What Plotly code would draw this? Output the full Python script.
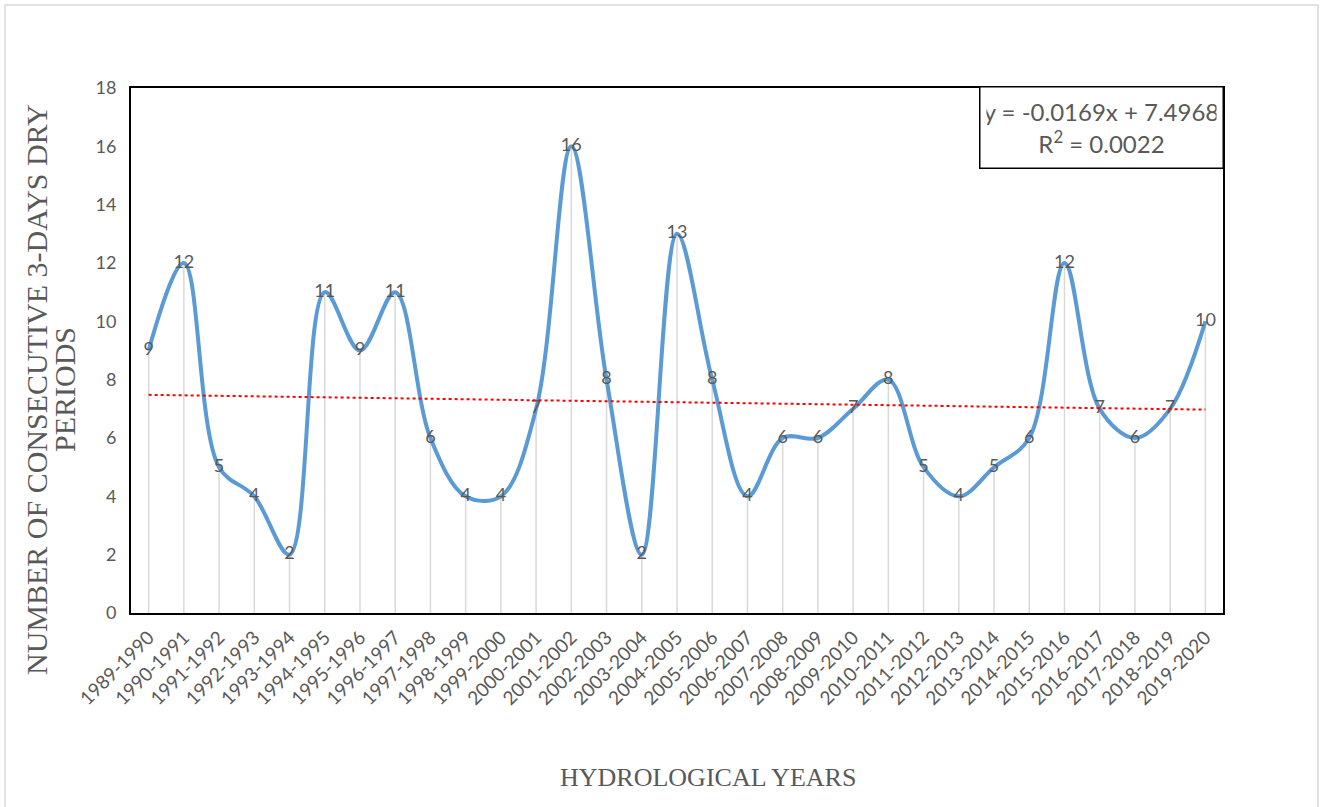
import plotly.graph_objects as go

# Hydrological years and counts of consecutive 3-day dry periods
years = ["1989-1990", "1990-1991", "1991-1992", "1992-1993", "1993-1994", "1994-1995",
         "1995-1996", "1996-1997", "1997-1998", "1998-1999", "1999-2000", "2000-2001",
         "2001-2002", "2002-2003", "2003-2004", "2004-2005", "2005-2006", "2006-2007",
         "2007-2008", "2008-2009", "2009-2010", "2010-2011", "2011-2012", "2012-2013",
         "2013-2014", "2014-2015", "2015-2016", "2016-2017", "2017-2018", "2018-2019",
         "2019-2020"]
dry_periods = [9, 12, 5, 4, 2, 11, 9, 11, 6, 4, 4, 7, 16, 8, 2, 13, 8, 4, 6, 6, 7, 8,
               5, 4, 5, 6, 12, 7, 6, 7, 10]

# Linear trend (x = 1..n)
slope = -0.0169
intercept = 7.4968
r_squared = 0.0022

idx = list(range(len(years)))
trend = [slope * (i + 1) + intercept for i in idx]

GRAY = "#595959"
SANS = "Lato, Open Sans, sans-serif"
SERIF = "Liberation Serif, Times New Roman, serif"

# plot-area geometry in pixels (used to place paper-referenced items)
L, R, T, B = 131, 1223, 88, 613
W, H = R - L, B - T


def px(x):
    return (x - L) / W


def py(y):
    return (B - y) / H


# vertical drop lines from each point to the axis
drop_x, drop_y = [], []
for i, v in zip(idx, dry_periods):
    drop_x += [i, i, None]
    drop_y += [0, v, None]

fig = go.Figure()
fig.add_trace(go.Scatter(x=drop_x, y=drop_y, mode="lines",
                         line=dict(color="#d9d9d9", width=1.5),
                         hoverinfo="skip", showlegend=False))
fig.add_trace(go.Scatter(x=idx, y=dry_periods, mode="lines+text",
                         line=dict(color="#5B9BD5", width=4, shape="spline", smoothing=1.0),
                         text=[str(v) for v in dry_periods], textposition="middle center",
                         textfont=dict(family=SANS, size=18, color=GRAY),
                         showlegend=False))
fig.add_trace(go.Scatter(x=idx, y=trend, mode="lines",
                         line=dict(color="#FF0000", width=2, dash="dot"),
                         showlegend=False))

fig.update_layout(
    width=1323, height=807,
    margin=dict(l=L, r=1323 - R, t=T, b=807 - B),
    paper_bgcolor="white", plot_bgcolor="white",
    xaxis=dict(range=[-0.5, len(years) - 0.5], tickmode="array", tickvals=idx,
               ticktext=years, tickangle=-45,
               tickfont=dict(family=SANS, size=19, color=GRAY),
               showgrid=False, zeroline=False, showline=True, linecolor="black",
               linewidth=2, mirror=True, ticks="", ticklabelstandoff=4),
    yaxis=dict(range=[0, 18], dtick=2, tickfont=dict(family=SANS, size=18, color=GRAY),
               showgrid=False, zeroline=False, showline=True, linecolor="black",
               linewidth=2, mirror=True, ticks="", ticklabelstandoff=9),
    shapes=[dict(type="rect", xref="paper", yref="paper",
                 x0=px(5), x1=px(1318), y0=py(812), y1=py(5),
                 line=dict(color="#d9d9d9", width=1.5), layer="below")],
    annotations=[
        dict(text=f"y = {slope}x + {intercept}<br>R<sup>2</sup> = {r_squared}",
             xref="paper", yref="paper", x=px(1224), y=py(86),
             xanchor="right", yanchor="top", showarrow=False, align="center",
             valign="middle",
             font=dict(family=SANS, size=24, color=GRAY),
             bordercolor="black", borderwidth=1.5, bgcolor="white", borderpad=6,
             width=230, height=68),
        dict(text="NUMBER OF CONSECUTIVE 3-DAYS DRY",
             xref="paper", yref="paper", x=px(36), y=py(390),
             xanchor="center", yanchor="middle", textangle=-90, showarrow=False,
             font=dict(family=SERIF, size=30, color=GRAY)),
        dict(text="PERIODS",
             xref="paper", yref="paper", x=px(64), y=py(390),
             xanchor="center", yanchor="middle", textangle=-90, showarrow=False,
             font=dict(family=SERIF, size=30, color=GRAY)),
        dict(text="HYDROLOGICAL YEARS", xref="paper", yref="paper",
             x=px(708), y=py(777), xanchor="center", yanchor="middle",
             showarrow=False, font=dict(family=SERIF, size=26, color=GRAY)),
    ],
)

fig.write_html("out.html")
